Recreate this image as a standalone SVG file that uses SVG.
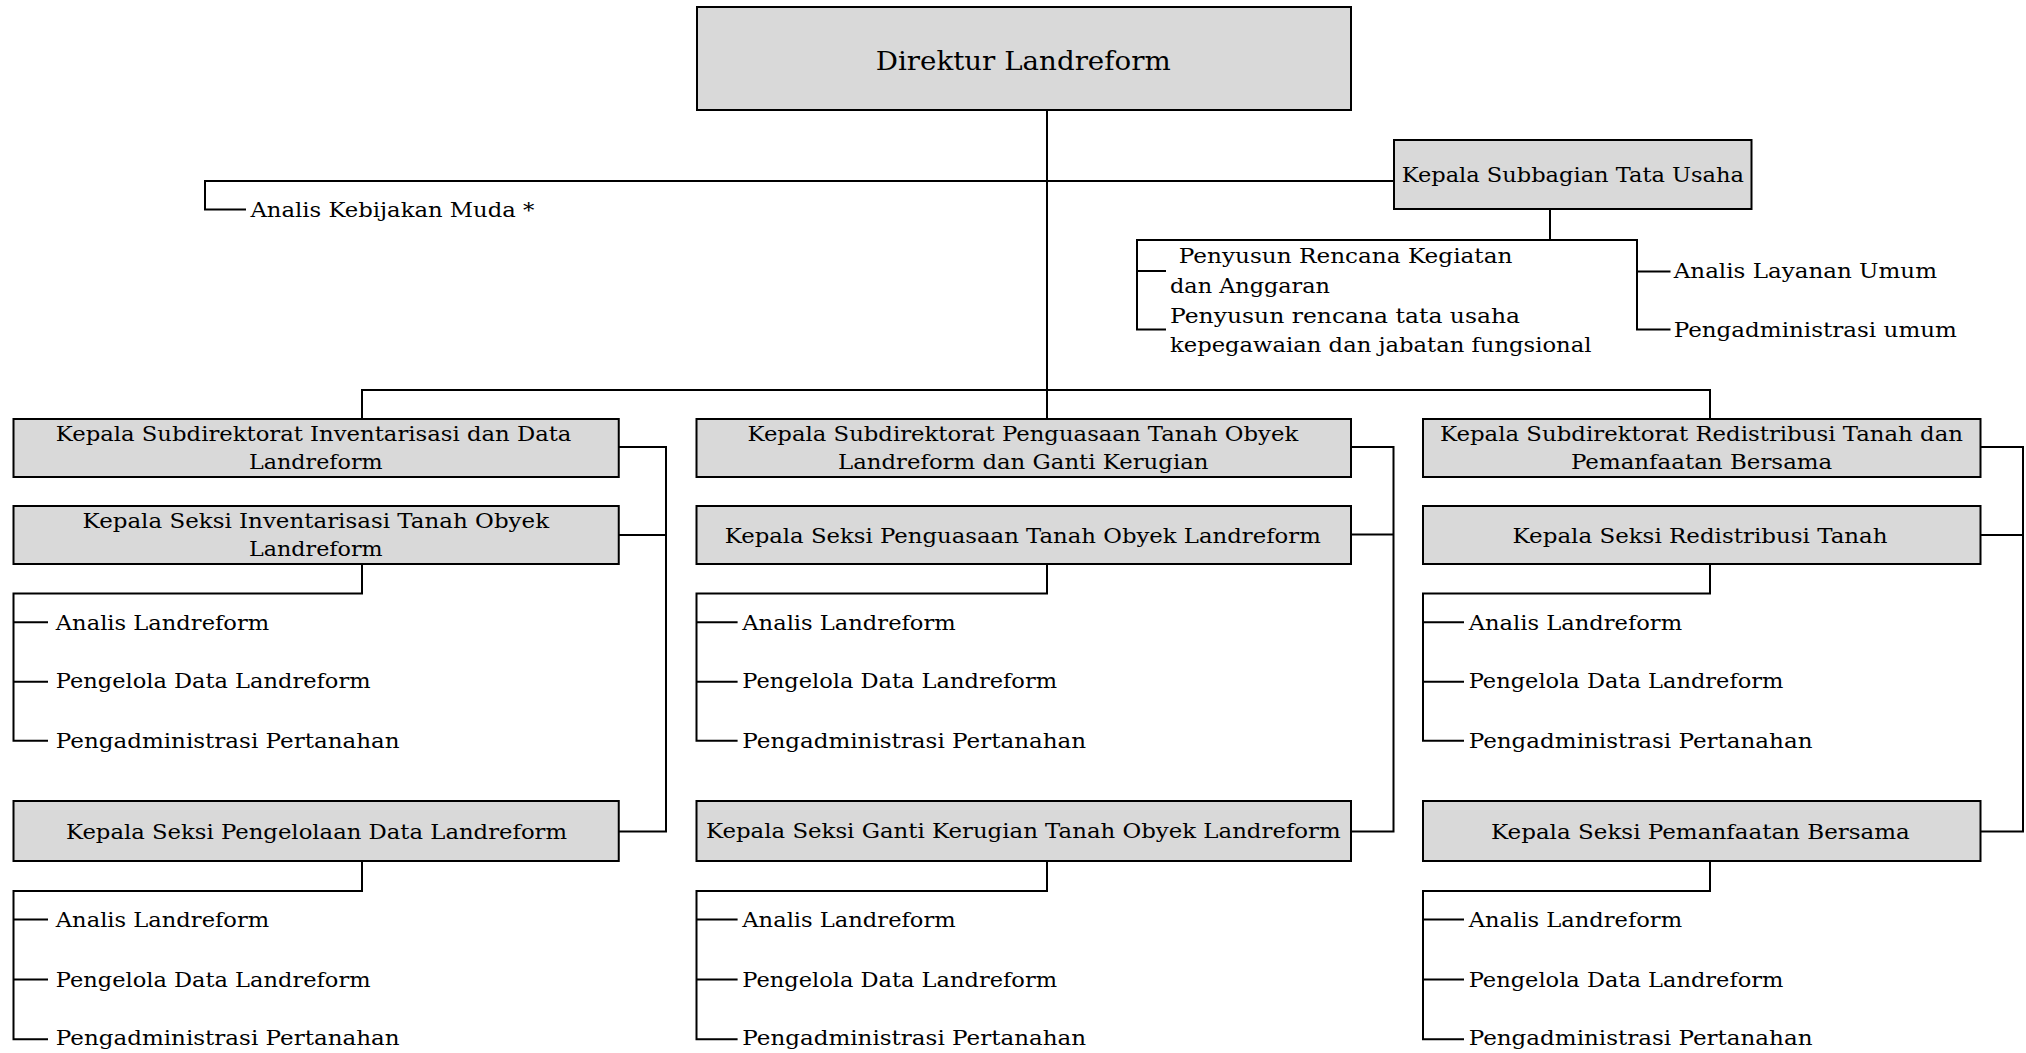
<svg xmlns="http://www.w3.org/2000/svg" width="2026" height="1053" viewBox="0 0 2026 1053">
<style>
.box{fill:#d9d9d9;stroke:#000;stroke-width:2}
.ln{fill:none;stroke:#000;stroke-width:2}
text{font-family:"DejaVu Serif","Liberation Serif",serif;font-size:21px;fill:#000}
.big{font-size:26.5px}
</style>
<rect width="2026" height="1053" fill="#fff"/>
<g id="connectors">
<path class="ln" d="M1047,110 V419"/>
<path class="ln" d="M246,209.5 H205 V181 H1394"/>
<path class="ln" d="M1550,209 V240"/>
<path class="ln" d="M1166,271 H1137 V240 H1637 V329.5 H1670.5 M1137,271 V329.5 H1166 M1637,271.5 H1670.5"/>
<path class="ln" d="M362,419 V390 H1710 V419"/>
<path class="ln" d="M618.75,447 H666 V831.5 H618.75 M618.75,535 H666"/>
<path class="ln" d="M1351,447 H1393.5 V831.5 H1351 M1351,534.5 H1393.5"/>
<path class="ln" d="M1980.5,447 H2023 V831.5 H1980.5 M1980.5,535 H2023"/>
<path class="ln" d="M362,564 V593.5 H13.5 V740.7 H48 M13.5,622.3 H48 M13.5,681.7 H48"/>
<path class="ln" d="M362,861 V891 H13.5 V1039.3 H48 M13.5,919.5 H48 M13.5,979.5 H48"/>
<path class="ln" d="M1047,564 V593.5 H696.5 V740.7 H737.6 M696.5,622.3 H737.6 M696.5,681.7 H737.6"/>
<path class="ln" d="M1047,861 V891 H696.5 V1039.3 H737.6 M696.5,919.5 H737.6 M696.5,979.5 H737.6"/>
<path class="ln" d="M1710,564 V593.5 H1423 V740.7 H1464 M1423,622.3 H1464 M1423,681.7 H1464"/>
<path class="ln" d="M1710,861 V891 H1423 V1039.3 H1464 M1423,919.5 H1464 M1423,979.5 H1464"/>
</g>
<g id="direktur">
<rect class="box" x="697" y="7" width="654" height="103"/>
<text class="big" x="875.7" y="70" textLength="295" lengthAdjust="spacingAndGlyphs">Direktur Landreform</text>
</g>
<g id="subbagian-tu">
<rect class="box" x="1394" y="140" width="357.5" height="69"/>
<text x="1401.7" y="182" textLength="342.3" lengthAdjust="spacingAndGlyphs">Kepala Subbagian Tata Usaha</text>
</g>
<g id="analis-kebijakan">
<text x="250.4" y="216.7" textLength="284" lengthAdjust="spacingAndGlyphs">Analis Kebijakan Muda *</text>
</g>
<g id="penyusun-rka">
<text x="1178.8" y="263.3" textLength="333.6" lengthAdjust="spacingAndGlyphs">Penyusun Rencana Kegiatan</text>
<text x="1170" y="292.7" textLength="160" lengthAdjust="spacingAndGlyphs">dan Anggaran</text>
</g>
<g id="penyusun-tu">
<text x="1170" y="323.3" textLength="350" lengthAdjust="spacingAndGlyphs">Penyusun rencana tata usaha</text>
<text x="1170" y="352" textLength="421.5" lengthAdjust="spacingAndGlyphs">kepegawaian dan jabatan fungsional</text>
</g>
<g id="analis-layanan">
<text x="1673.7" y="278.3" textLength="263.3" lengthAdjust="spacingAndGlyphs">Analis Layanan Umum</text>
</g>
<g id="pengadministrasi-umum">
<text x="1673.7" y="336.7" textLength="283.2" lengthAdjust="spacingAndGlyphs">Pengadministrasi umum</text>
</g>

<g id="subdit-inventarisasi">
<rect class="box" x="13.5" y="419" width="605.25" height="58"/>
<text x="55.8" y="440.7" textLength="515.6" lengthAdjust="spacingAndGlyphs">Kepala Subdirektorat Inventarisasi dan Data</text>
<text x="249" y="469.3" textLength="133.6" lengthAdjust="spacingAndGlyphs">Landreform</text>
</g>
<g id="seksi-inventarisasi">
<rect class="box" x="13.5" y="506" width="605.25" height="58"/>
<text x="82.6" y="527.7" textLength="466.5" lengthAdjust="spacingAndGlyphs">Kepala Seksi Inventarisasi Tanah Obyek</text>
<text x="249" y="556" textLength="133.6" lengthAdjust="spacingAndGlyphs">Landreform</text>
</g>
<g id="staf-inventarisasi">
<text x="55.8" y="630" textLength="213.4" lengthAdjust="spacingAndGlyphs">Analis Landreform</text>
<text x="55.8" y="688.3" textLength="314.7" lengthAdjust="spacingAndGlyphs">Pengelola Data Landreform</text>
<text x="55.8" y="748.3" textLength="343.8" lengthAdjust="spacingAndGlyphs">Pengadministrasi Pertanahan</text>
</g>
<g id="seksi-pengelolaan">
<rect class="box" x="13.5" y="801" width="605.25" height="60"/>
<text x="66" y="839" textLength="501" lengthAdjust="spacingAndGlyphs">Kepala Seksi Pengelolaan Data Landreform</text>
</g>
<g id="staf-pengelolaan">
<text x="55.8" y="926.7" textLength="213.4" lengthAdjust="spacingAndGlyphs">Analis Landreform</text>
<text x="55.8" y="986.7" textLength="314.7" lengthAdjust="spacingAndGlyphs">Pengelola Data Landreform</text>
<text x="55.8" y="1045" textLength="343.8" lengthAdjust="spacingAndGlyphs">Pengadministrasi Pertanahan</text>
</g>

<g id="subdit-penguasaan">
<rect class="box" x="696.5" y="419" width="654.5" height="58"/>
<text x="747.5" y="440.7" textLength="550.7" lengthAdjust="spacingAndGlyphs">Kepala Subdirektorat Penguasaan Tanah Obyek</text>
<text x="838" y="469.3" textLength="370.5" lengthAdjust="spacingAndGlyphs">Landreform dan Ganti Kerugian</text>
</g>
<g id="seksi-penguasaan">
<rect class="box" x="696.5" y="506" width="654.5" height="58"/>
<text x="724.8" y="543.3" textLength="596" lengthAdjust="spacingAndGlyphs">Kepala Seksi Penguasaan Tanah Obyek Landreform</text>
</g>
<g id="staf-penguasaan">
<text x="742.3" y="630" textLength="213.4" lengthAdjust="spacingAndGlyphs">Analis Landreform</text>
<text x="742.3" y="688.3" textLength="314.7" lengthAdjust="spacingAndGlyphs">Pengelola Data Landreform</text>
<text x="742.3" y="748.3" textLength="343.8" lengthAdjust="spacingAndGlyphs">Pengadministrasi Pertanahan</text>
</g>
<g id="seksi-ganti-kerugian">
<rect class="box" x="696.5" y="801" width="654.5" height="60"/>
<text x="706" y="838" textLength="634.7" lengthAdjust="spacingAndGlyphs">Kepala Seksi Ganti Kerugian Tanah Obyek Landreform</text>
</g>
<g id="staf-ganti-kerugian">
<text x="742.3" y="926.7" textLength="213.4" lengthAdjust="spacingAndGlyphs">Analis Landreform</text>
<text x="742.3" y="986.7" textLength="314.7" lengthAdjust="spacingAndGlyphs">Pengelola Data Landreform</text>
<text x="742.3" y="1045" textLength="343.8" lengthAdjust="spacingAndGlyphs">Pengadministrasi Pertanahan</text>
</g>

<g id="subdit-redistribusi">
<rect class="box" x="1423" y="419" width="557.5" height="58"/>
<text x="1440" y="440.7" textLength="523" lengthAdjust="spacingAndGlyphs">Kepala Subdirektorat Redistribusi Tanah dan</text>
<text x="1570.9" y="469.3" textLength="261.4" lengthAdjust="spacingAndGlyphs">Pemanfaatan Bersama</text>
</g>
<g id="seksi-redistribusi">
<rect class="box" x="1423" y="506" width="557.5" height="58"/>
<text x="1512.6" y="542.7" textLength="375" lengthAdjust="spacingAndGlyphs">Kepala Seksi Redistribusi Tanah</text>
</g>
<g id="staf-redistribusi">
<text x="1468.7" y="630" textLength="213.4" lengthAdjust="spacingAndGlyphs">Analis Landreform</text>
<text x="1468.7" y="688.3" textLength="314.7" lengthAdjust="spacingAndGlyphs">Pengelola Data Landreform</text>
<text x="1468.7" y="748.3" textLength="343.8" lengthAdjust="spacingAndGlyphs">Pengadministrasi Pertanahan</text>
</g>
<g id="seksi-pemanfaatan">
<rect class="box" x="1423" y="801" width="557.5" height="60"/>
<text x="1491" y="839" textLength="418.8" lengthAdjust="spacingAndGlyphs">Kepala Seksi Pemanfaatan Bersama</text>
</g>
<g id="staf-pemanfaatan">
<text x="1468.7" y="926.7" textLength="213.4" lengthAdjust="spacingAndGlyphs">Analis Landreform</text>
<text x="1468.7" y="986.7" textLength="314.7" lengthAdjust="spacingAndGlyphs">Pengelola Data Landreform</text>
<text x="1468.7" y="1045" textLength="343.8" lengthAdjust="spacingAndGlyphs">Pengadministrasi Pertanahan</text>
</g>
</svg>
